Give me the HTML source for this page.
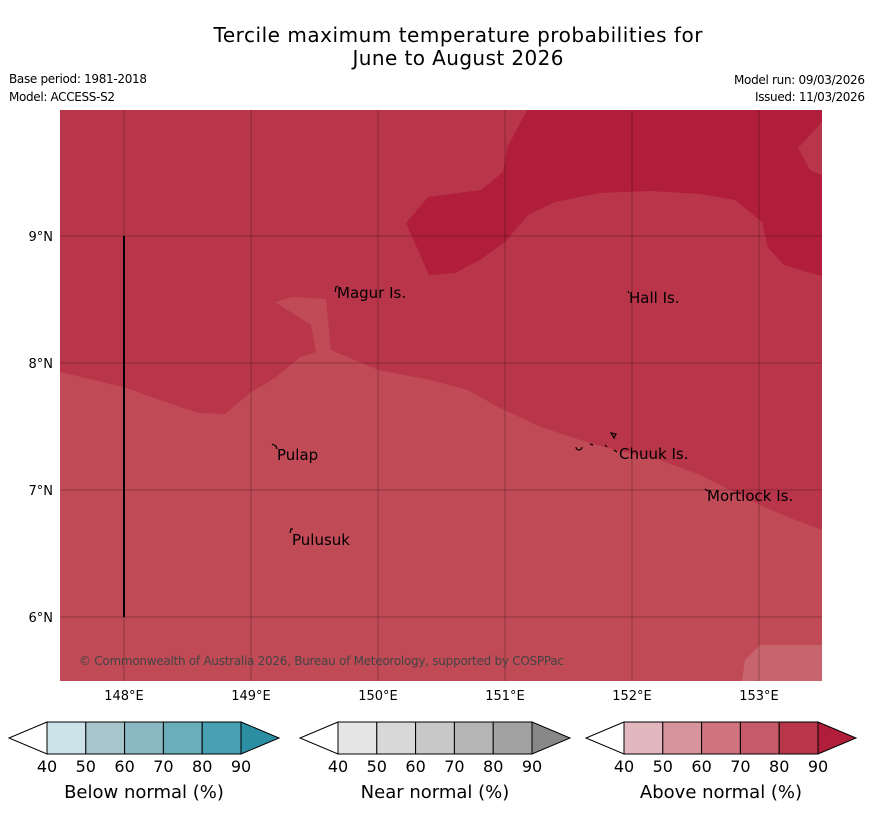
<!DOCTYPE html>
<html><head><meta charset="utf-8"><style>
body{margin:0;background:#fff;width:873px;height:816px;overflow:hidden;font-family:"Liberation Sans","DejaVu Sans",sans-serif}
svg text{font-family:"DejaVu Sans","Liberation Sans",sans-serif}
</style></head><body>
<svg id="chart" width="873" height="816">
<text x="458" y="42" font-size="20" text-anchor="middle" textLength="489">Tercile maximum temperature probabilities for</text>
<text x="458" y="65" font-size="20" text-anchor="middle" textLength="211">June to August 2026</text>
<text x="9" y="83" font-size="12" textLength="138">Base period: 1981-2018</text>
<text x="9" y="101" font-size="12" textLength="106">Model: ACCESS-S2</text>
<text x="865" y="84" font-size="12" text-anchor="end" textLength="131">Model run: 09/03/2026</text>
<text x="865" y="101" font-size="12" text-anchor="end" textLength="110">Issued: 11/03/2026</text>
<g>
<rect x="60" y="110" width="762" height="571" fill="#b9364a"/>
<polygon fill="#b01e3b" points="527,110 507,148 503,172 481,190 428,197 406,223 429,275 455,273 480,260 505,242 528,215 555,202 600,193 650,191 700,194 735,200 762,222 768,248 784,265 810,273 822,276 822,175 810,170 798,148 822,122 822,110"/>
<polygon fill="#c04a56" points="60,372 123,387 160,400 198,413 225,414 250,393 275,378 300,357 316,352 311,325 275,302 292,297 326,299 331,350 378,370 430,380 468,390 500,408 541,427 580,440 615,450 660,460 700,475 760,505 790,518 822,530 822,681 60,681"/>
<polygon fill="#c8646e" points="745,660 760,645 822,645 822,681 742,681"/>
<g id="grid" stroke="#000" stroke-opacity="0.25" stroke-width="1"></g>
<line x1="124" y1="236" x2="124" y2="617" stroke="#000" stroke-width="2"/>
<g font-size="15">
<text x="337" y="298">Magur Is.</text>
<text x="629" y="303">Hall Is.</text>
<text x="277" y="460">Pulap</text>
<text x="619" y="459">Chuuk Is.</text>
<text x="707" y="501">Mortlock Is.</text>
<text x="292" y="545">Pulusuk</text>
</g>
<g fill="none" stroke="#000" stroke-width="1.2">
<path d="M335 292 l1-5 2-1M272 444 l4 2 1 3M628 291 l1 2M705 489 l3 2M290 533 l1-4 2 0M576 447 a3 3 0 1 0 6 0 M590 444 l3 1M605 445 l2 2M611 433 l5 1-2 4z M614 450 l3 2"/>
</g>
<text x="79" y="665" font-size="12" fill="#444" textLength="485">© Commonwealth of Australia 2026, Bureau of Meteorology, supported by COSPPac</text>
</g>
<g id="axes" font-size="13"></g>
<g id="cbars"></g>
</svg>
<script>
const lonTicks=[148,149,150,151,152,153];
const latTicks=[9,8,7,6];
const cbTicks=[40,50,60,70,80,90];
const cbTitles=["Below normal (%)","Near normal (%)","Above normal (%)"];
const blueColors=["#cae2e8","#a6c6cb","#8ab8c3","#6aadbb","#48a1b3","#2b8ea3"];
const greyColors=["#e5e5e5","#d8d8d8","#c8c8c8","#b5b5b5","#a2a2a2","#888888"];
const redColors=["#e2b8be","#d8949d","#cf737e","#c65a68","#b9364a","#b01e3b"];
const ns="http://www.w3.org/2000/svg";
const x=lon=>124+(lon-148)*127, y=lat=>236+(9-lat)*127;
const grid=document.getElementById('grid'), axes=document.getElementById('axes');
function mk(t,a,p){const e=document.createElementNS(ns,t);for(const k in a)e.setAttribute(k,a[k]);p.appendChild(e);return e;}
lonTicks.forEach(l=>{
  const g=mk('line',{x1:x(l),x2:x(l),y1:110,y2:681},grid);
  
  
  const t=mk('text',{x:x(l),y:700,'text-anchor':'middle'},axes);t.textContent=l+'°E';
  
  
});
latTicks.forEach(l=>{
  const g=mk('line',{x1:60,x2:822,y1:y(l),y2:y(l)},grid);
  
  
  const t=mk('text',{x:53,y:y(l)+5,'text-anchor':'end'},axes);t.textContent=l+'°N';
  
  
});
const cb=document.getElementById('cbars');
const starts=[47,338,624], sets=[blueColors,greyColors,redColors], cw=38.8;
starts.forEach((s,i)=>{
  const g=mk('g',{},cb);
  
  
  const l=mk('polygon',{points:`${s},722 ${s-38},738 ${s},754`,fill:'#fff',stroke:'#000','stroke-width':1},g);
  
  
  for(let k=0;k<5;k++){
    const r=mk('rect',{x:s+k*cw,y:722,width:cw,height:32,fill:sets[i][k],stroke:'#000','stroke-width':1},g);
    
    
  }
  const e=s+5*cw;
  const r=mk('polygon',{points:`${e},722 ${e+38},738 ${e},754`,fill:sets[i][5],stroke:'#000','stroke-width':1},g);
  
  
  cbTicks.forEach((v,k)=>{
    const t=mk('text',{x:s+k*cw,y:772,'font-size':16,'text-anchor':'middle'},g);t.textContent=v;
    
    
  });
  const t=mk('text',{x:s+2.5*cw,y:798,'font-size':18,'text-anchor':'middle'},g);t.textContent=cbTitles[i];
  
  
});
</script>
</body></html>
